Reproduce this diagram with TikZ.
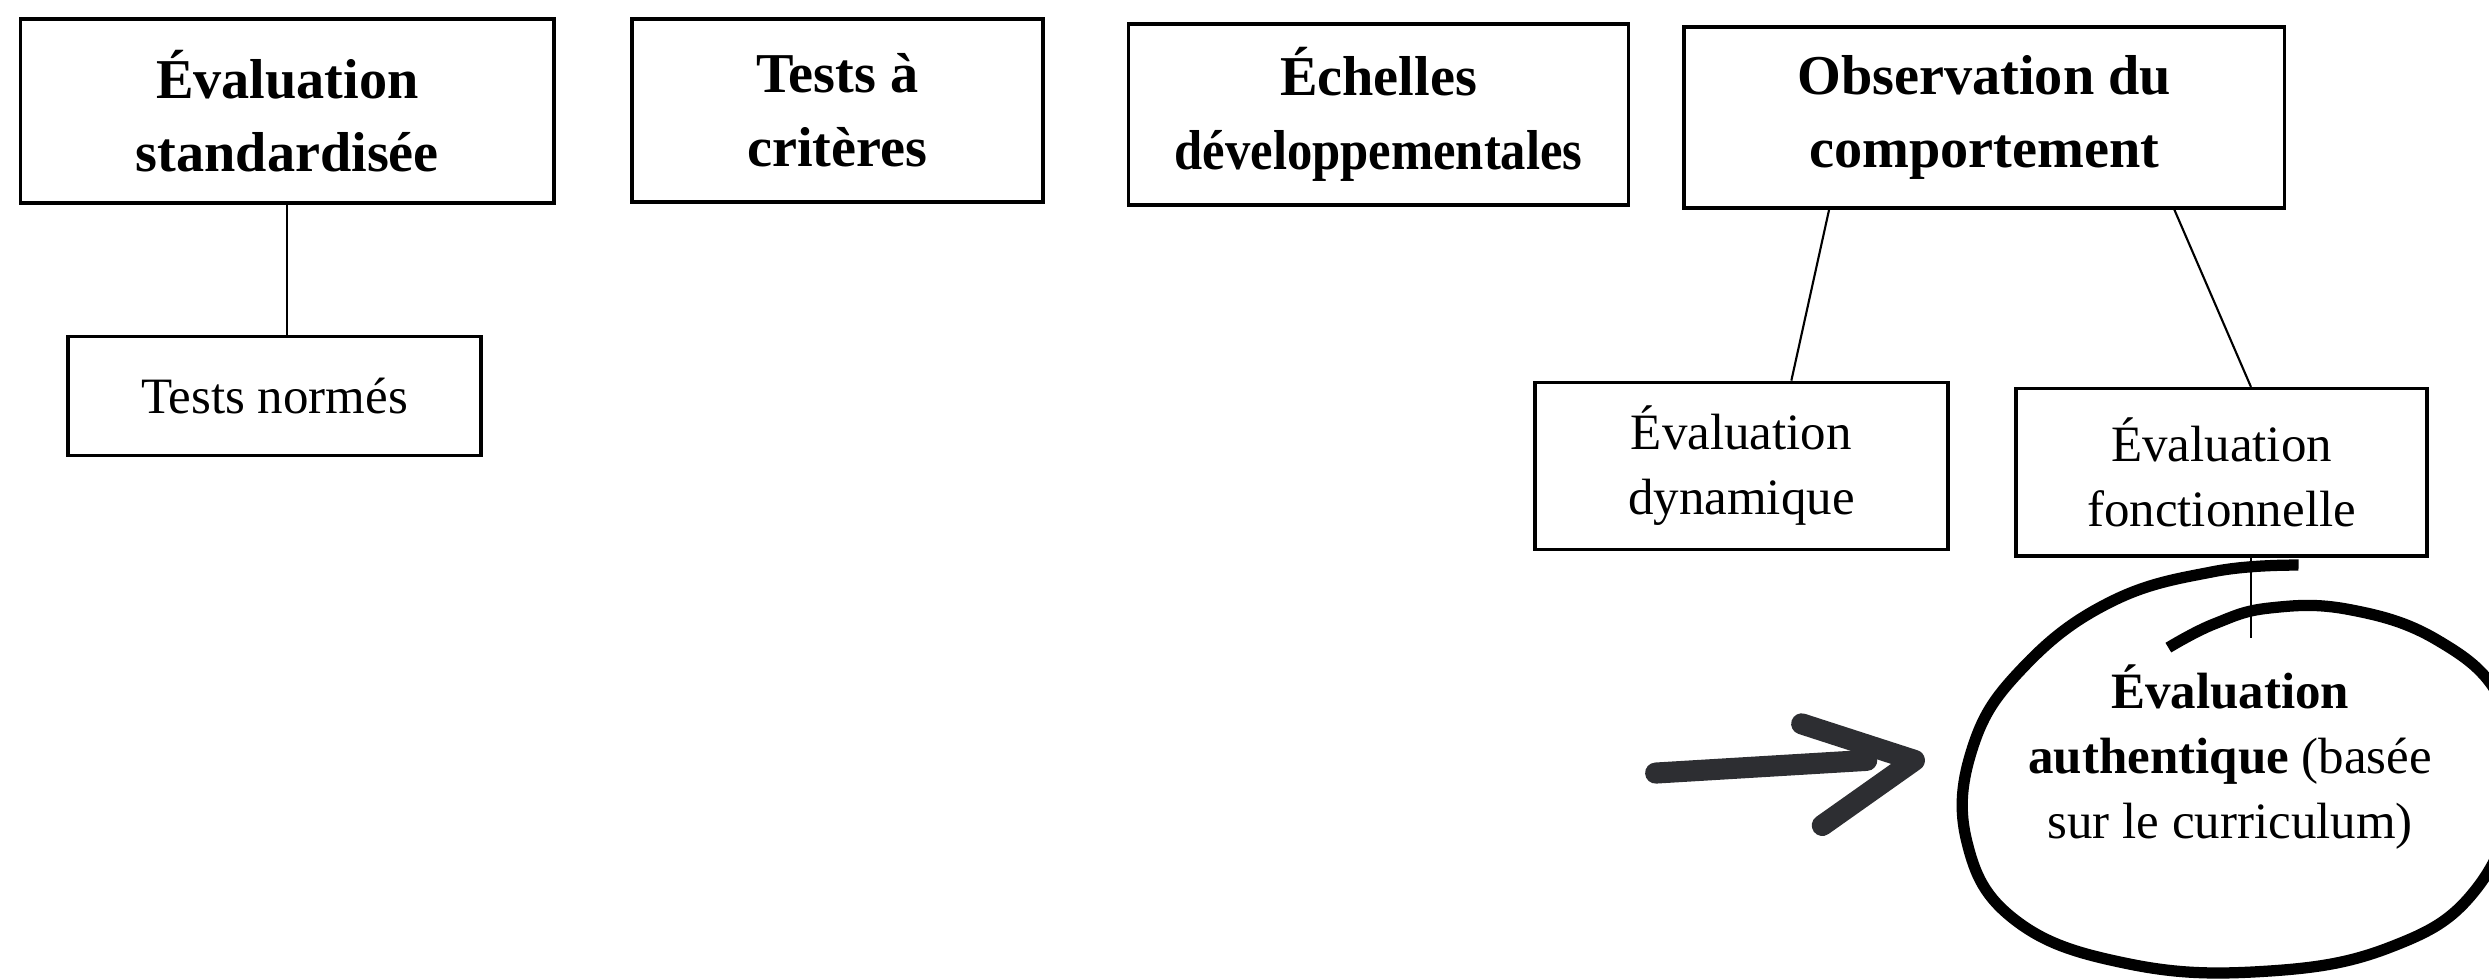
\documentclass[tikz,border=0pt]{standalone}
\usepackage{fontspec}
\setmainfont{Liberation Serif}
\usetikzlibrary{calc, positioning}
\definecolor{crayon}{HTML}{2D2E32}

\begin{document}
\begin{tikzpicture}[x=0.015874cm, y=-0.015874cm,
  boite/.style={draw, line width=1pt, align=center, inner sep=0pt,
    font=\fontsize{14.5}{18.5}\selectfont},
  titre/.style={boite, font=\fontsize{16}{21}\selectfont\bfseries},
  lien/.style={line width=0.6pt},
  trait/.style={line width=3.2pt, line cap=butt, line join=round},
  fleche/.style={crayon, line width=6pt, line cap=round, line join=round}]
  \useasboundingbox (0,0) rectangle (1568,617);

  % top row
  \node [titre, minimum width=5.33cm, minimum height=1.84cm] (std) at (181,70) {Évaluation\\standardisée};
  \node [titre, minimum width=4.11cm, minimum height=1.83cm] (crit) at (527.5,69.5) {Tests à\\critères};
  \node [titre, minimum width=5.00cm, minimum height=1.81cm] (dev) at (868.5,72) {Échelles\\\scalebox{0.9}[1]{développementales}};
  \node [titre, minimum width=6.00cm, minimum height=1.81cm] (obs) at (1250,74) {Observation du\\comportement};

  % second row
  \node [boite, minimum width=4.13cm, minimum height=1.19cm] (norm) at (173,249.5) {Tests normés};
  \node [boite, minimum width=4.13cm, minimum height=1.67cm] (dyn) at (1097,293.5) {Évaluation\\dynamique};
  \node [boite, minimum width=4.11cm, minimum height=1.67cm] (fonc) at (1399.5,297.5) {Évaluation\\fonctionnelle};

  % circled one
  \node [align=center, font=\fontsize{14.5}{18.5}\selectfont] (auth) at (1405,477)
    {\textbf{Évaluation}\\\textbf{authentique} (basée\\sur le curriculum)};

  \draw [lien] (std.south) -- (std.south |- norm.north);
  \draw [lien] ($(obs.south west)!0.243!(obs.south east)$) -- ($(dyn.north west)!0.62!(dyn.north east)$);
  \draw [lien] ($(obs.south west)!0.815!(obs.south east)$) -- ($(fonc.north west)!0.571!(fonc.north east)$);
  \coordinate (bas) at ($(fonc.south west)!0.571!(fonc.south east) + (0,51)$);
  \draw [lien] ($(fonc.south west)!0.571!(fonc.south east)$) -- (bas);

  % hand drawn loop
  \draw [trait] plot [smooth, tension=0.7] coordinates {(1448,356) (1395,360) (1330,379) (1275,420)
    (1243,470) (1239,530) (1270,580) (1340,607) (1425,612) (1505,597) (1560,560) (1585,495)
    (1575,440) (1535,403) (1480,384) (1430,383) (1395,393) (1366,408)};

  % hand drawn arrow
  \coordinate (queue) at (1043,487);
  \coordinate (pointe) at (1206,479);
  \draw [fleche] (queue) -- ($(pointe)+(-30,0)$);
  \draw [fleche] ($(pointe)+(-71,-23)$) -- (pointe) -- ($(pointe)+(-58,41)$);
\end{tikzpicture}
\end{document}
